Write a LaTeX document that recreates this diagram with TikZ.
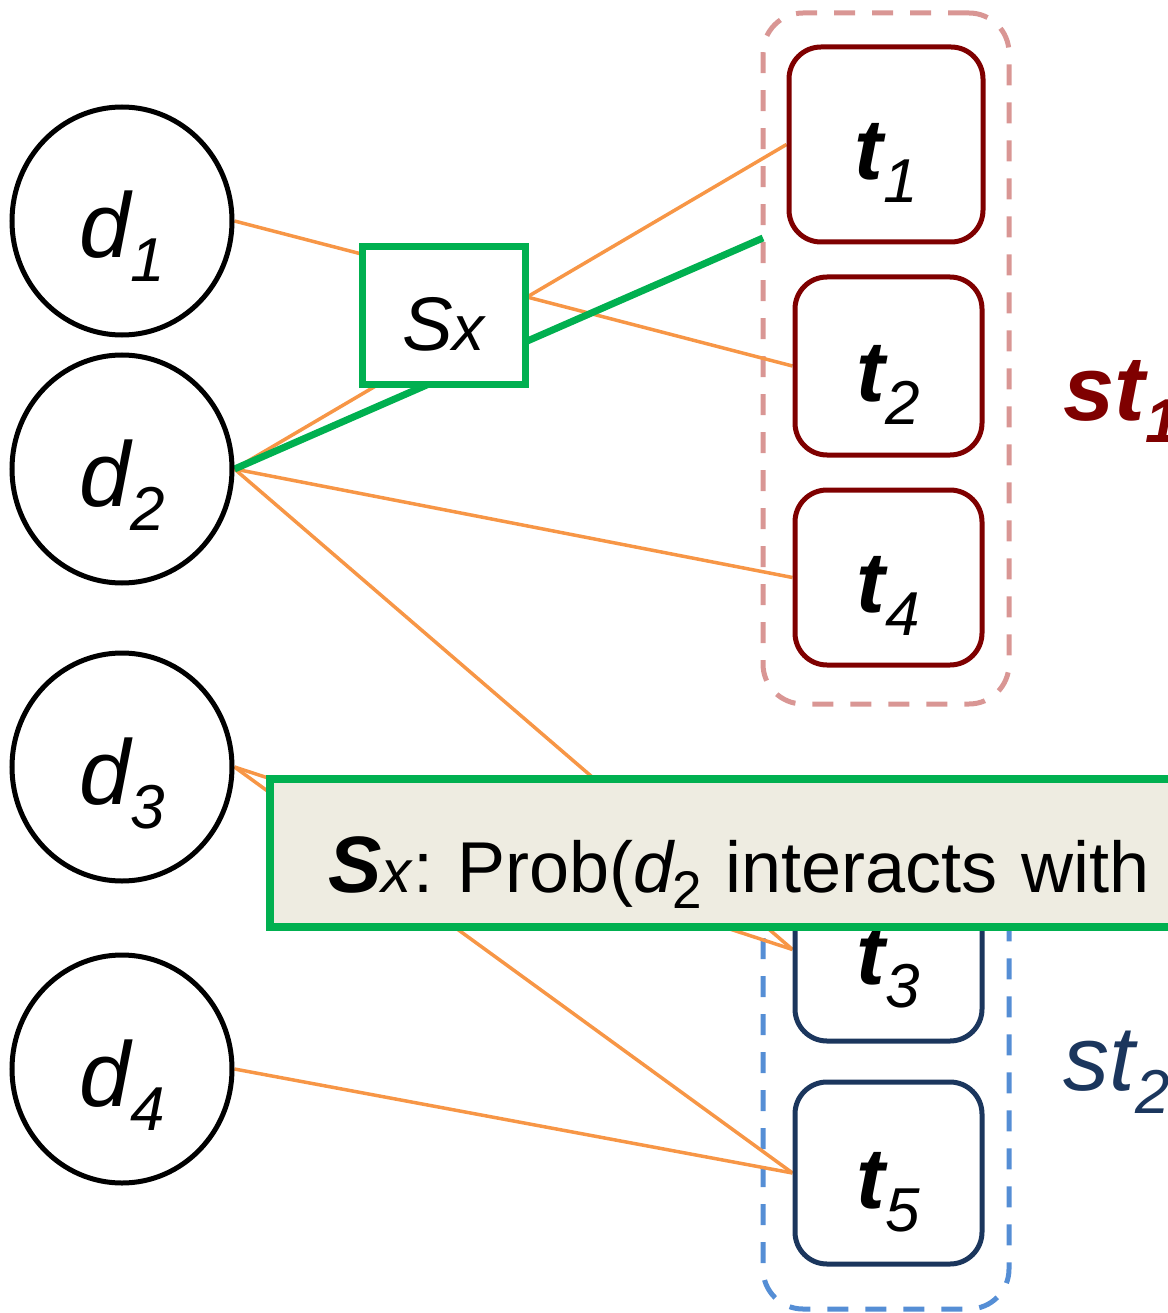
\documentclass[tikz,border=0pt]{standalone}
\usepackage{fontspec}
\setmainfont{Liberation Sans}
\usetikzlibrary{shapes.geometric,backgrounds}

\definecolor{linkorange}{HTML}{F79646}
\definecolor{hlgreen}{HTML}{00B050}
\definecolor{termred}{HTML}{7F0000}
\definecolor{termnavy}{HTML}{1B365D}
\definecolor{grpred}{HTML}{D99694}
\definecolor{grpblue}{HTML}{558ED5}
\definecolor{notefill}{HTML}{EEECE1}

% lowered subscript: drop, size, text
\newcommand{\lowsub}[3]{\raisebox{-#1pt}{\fontsize{#2}{#2}\selectfont #3}}

\begin{document}
\frenchspacing
\begin{tikzpicture}[x=1pt,y=-1pt,
  docnode/.style={ellipse, draw=black, line width=5pt, fill=white,
    minimum width=220pt, minimum height=228pt, inner sep=0pt,
    text height=74pt, text depth=0pt,
    font=\fontsize{92}{110}\selectfont\itshape},
  termbox/.style={rectangle, rounded corners=32pt, line width=5pt, fill=white,
    minimum width=187pt, inner sep=0pt,
    text height=70pt, text depth=0pt,
    font=\fontsize{86}{100}\selectfont\bfseries\itshape},
  redterm/.style={termbox, draw=termred},
  navyterm/.style={termbox, draw=termnavy},
  group/.style={rectangle, rounded corners=40pt, line width=5pt,
    dash pattern=on 21pt off 17pt, minimum width=246pt, inner sep=0pt},
  link/.style={draw=linkorange, line width=3.5pt},
  hilink/.style={draw=hlgreen, line width=7pt},
  subsetbox/.style={rectangle, draw=hlgreen, line width=7pt, fill=white,
    minimum width=163pt, minimum height=137pt, inner sep=0pt,
    text height=69pt, text depth=0pt,
    font=\fontsize{76}{84}\selectfont\itshape},
  notebox/.style={rectangle, draw=hlgreen, line width=8pt, fill=notefill,
    minimum height=148pt, inner xsep=58pt, inner ysep=0pt,
    text width=1000pt, align=left,
    text height=78pt, text depth=0pt,
    font=\fontsize{72}{84}\selectfont},
  grouplabel/.style={anchor=base west, font=\fontsize{92}{110}\selectfont\itshape}
]
\useasboundingbox (0,0) rectangle (1167,1313);

% drug nodes
\node[docnode] (d1) at (122,221) {d\lowsub{24}{62}{1}};
\node[docnode] (d2) at (122,469) {d\lowsub{24}{62}{2}};
\node[docnode] (d3) at (122,767) {d\lowsub{24}{62}{3}};
\node[docnode] (d4) at (122,1069) {d\lowsub{24}{62}{4}};

% target nodes
\node[redterm, minimum width=194pt, minimum height=195pt] (t1) at (886,144.5) {t\lowsub{23}{62}{\mdseries 1}};
\node[redterm, minimum height=178pt] (t2) at (888.5,366) {t\lowsub{23}{62}{\mdseries 2}};
\node[redterm, minimum height=175pt] (t4) at (888.5,577.5) {t\lowsub{23}{62}{\mdseries 4}};
\node[navyterm, minimum height=183pt] (t3) at (888.5,949.5) {t\lowsub{23}{62}{\mdseries 3}};
\node[navyterm, minimum height=182pt] (t5) at (888.5,1173) {t\lowsub{23}{62}{\mdseries 5}};

% subset box
\node[subsetbox] (sx) at (443.5,315.5) {S{\fontsize{64}{64}\selectfont x}};

% free end of the highlighted link, on the edge of group st1
\coordinate (gEnd) at (763,238);

\begin{pgfonlayer}{background}
  % target groups
  \node[group, draw=grpred, minimum height=691pt] (g1) at (886,358.5) {};
  \node[group, draw=grpblue, minimum height=486pt] (g2) at (886,1066) {};
  % interaction links
  \draw[link] (d1.east) -- (t2.west);
  \draw[link] (d2.east) -- (t1.west);
  \draw[link] (d2.east) -- (t4.west);
  \draw[link] (d2.east) -- (t3.west);
  \draw[link] (d3.east) -- (t3.west);
  \draw[link] (d3.east) -- (t5.west);
  \draw[link] (d4.east) -- (t5.west);
  \draw[hilink] (d2.east) -- (gEnd);
\end{pgfonlayer}

% group labels
\node[grouplabel, text=termred, font=\fontsize{92}{110}\selectfont\bfseries\itshape] (st1) at (1060,420) {st\lowsub{22}{62}{1}};
\node[grouplabel, text=termnavy] (st2) at (1060,1090) {st\lowsub{23}{62}{2}};

% explanation note
\node[notebox, anchor=west] (note) at (266,853)
  {\textit{\fontsize{80}{84}\selectfont\textbf{S}{\fontsize{60}{60}\selectfont x}}: Prob(\textit{d}\kern-3pt\lowsub{16}{53}{2} interacts with};
\end{tikzpicture}
\end{document}
